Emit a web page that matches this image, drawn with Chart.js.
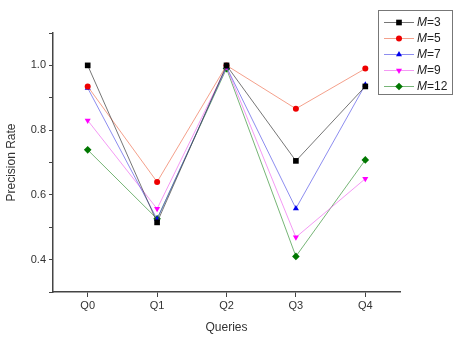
<!DOCTYPE html>
<html>
<head>
<meta charset="utf-8">
<script src="https://cdn.jsdelivr.net/npm/chart.js@4"></script>
<style>
  html, body { margin: 0; padding: 0; background: #fff; }
  #wrap { width: 454px; height: 339px; }
</style>
</head>
<body>
<div id="wrap"><canvas id="chart" width="454" height="339"></canvas></div>
<script>
"use strict";

// chart data
var queries = ['Q0', 'Q1', 'Q2', 'Q3', 'Q4'];
var mValues = ['3', '5', '7', '9', '12'];
var precM3 = [1.0, 0.515, 1.0, 0.705, 0.935];
var precM5 = [0.935, 0.64, 1.0, 0.866, 0.99];
var precM7 = [0.93, 0.525, 0.995, 0.558, 0.94];
var precM9 = [0.83, 0.557, 0.995, 0.469, 0.65];
var precM12 = [0.739, 0.526, 0.99, 0.41, 0.708];
var yTicks = [0.3, 0.4, 0.5, 0.6, 0.7, 0.8, 0.9, 1.0, 1.1];

var seriesValues = [precM3, precM5, precM7, precM9, precM12];
var markerColors = ['#000000', '#ee0000', '#0000ee', '#ff00ff', '#007700'];
var lineColors = ['rgba(60,60,60,0.7)', 'rgba(240,120,90,0.7)', 'rgba(80,80,230,0.65)', 'rgba(240,110,240,0.7)', 'rgba(60,150,60,0.7)'];
var markerShapes = ['rect', 'circle', 'triangle', 'triangle', 'rectRot'];
var markerRotation = [0, 0, 0, 180, 0];
var markerRadius = [4, 3, 3.5, 3.5, 3.8];

var fontFamily = '"Liberation Sans", Arial, sans-serif';

var datasets = [];
for (var i = 0; i < seriesValues.length; i++) {
    datasets.push({
        label: 'M=' + mValues[i],
        data: seriesValues[i],
        borderColor: lineColors[i],
        borderWidth: 1,
        backgroundColor: markerColors[i],
        pointBackgroundColor: markerColors[i],
        pointBorderColor: markerColors[i],
        pointBorderWidth: 0,
        pointStyle: markerShapes[i],
        pointRotation: markerRotation[i],
        pointRadius: markerRadius[i],
        tension: 0,
        fill: false
    });
}

// legend box drawn inside the chart, top right
var boxLegend = {
    id: 'boxLegend',
    afterDraw: function (chart) {
        var ctx = chart.ctx;
        var left = 378, top = 10, w = 74, h = 84;
        ctx.save();
        ctx.strokeStyle = '#777';
        ctx.lineWidth = 1;
        ctx.strokeRect(left + 0.5, top + 0.5, w, h);
        var rowY = [22, 38, 54, 70, 86];
        chart.data.datasets.forEach(function (ds, i) {
            var y = rowY[i] + 0.5;
            ctx.strokeStyle = ds.borderColor;
            ctx.beginPath();
            ctx.moveTo(384, y);
            ctx.lineTo(414, y);
            ctx.stroke();
            ctx.fillStyle = ds.backgroundColor;
            Chart.helpers.drawPoint(ctx, {
                pointStyle: ds.pointStyle,
                rotation: ds.pointRotation,
                radius: ds.pointRadius,
                borderWidth: 0
            }, 399, y);
            ctx.fillStyle = '#222';
            ctx.textBaseline = 'middle';
            ctx.font = 'italic 12px ' + fontFamily;
            ctx.fillText('M', 417, y);
            var mw = ctx.measureText('M').width;
            ctx.font = '12px ' + fontFamily;
            ctx.fillText(ds.label.slice(1), 417 + mw, y);
        });
        ctx.restore();
    }
};

var ctx = document.getElementById('chart').getContext('2d');
var chart = new Chart(ctx, {
    type: 'line',
    data: { labels: queries, datasets: datasets },
    plugins: [boxLegend],
    options: {
        responsive: false,
        animation: false,
        layout: { padding: { top: 33, right: 54, left: 0, bottom: 0 } },
        plugins: { legend: { display: false }, tooltip: { enabled: false } },
        scales: {
            x: {
                offset: true,
                grid: { display: true, drawOnChartArea: false, offset: false, tickLength: 5, color: '#444', lineWidth: 1 },
                border: { display: true, color: '#444', width: 1.5 },
                ticks: { color: '#333', font: { family: fontFamily, size: 11 }, padding: 2 },
                title: { display: true, text: 'Queries', color: '#333', font: { family: fontFamily, size: 12 }, padding: { top: 4 } },
                afterFit: function (scale) { scale.height = 47; }
            },
            y: {
                min: 0.3,
                max: 1.1,
                afterBuildTicks: function (scale) {
                    scale.ticks = yTicks.map(function (v) { return { value: v }; });
                },
                grid: { display: true, drawOnChartArea: false, tickLength: 4, color: '#444', lineWidth: 1 },
                border: { display: true, color: '#444', width: 1.5 },
                ticks: {
                    color: '#333',
                    font: { family: fontFamily, size: 11 },
                    padding: 3,
                    callback: function (v) {
                        var r = Math.round(v * 10);
                        if (r % 2 === 0 && r >= 4 && r <= 10) return v.toFixed(1);
                        return '';
                    }
                },
                title: { display: true, text: 'Precision Rate', color: '#333', font: { family: fontFamily, size: 12 }, padding: { bottom: 6 } },
                afterFit: function (scale) { scale.width = 53; }
            }
        }
    }
});
</script>
</body>
</html>
